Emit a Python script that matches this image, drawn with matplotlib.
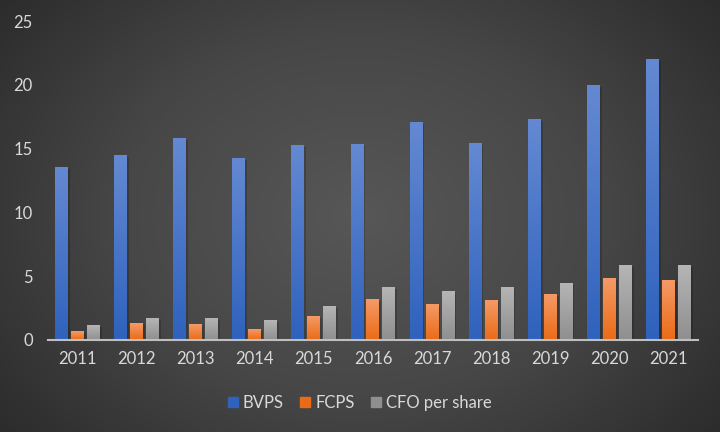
import matplotlib.pyplot as plt
import numpy as np
from matplotlib.colors import LinearSegmentedColormap

plt.rcParams['font.family'] = ['Lato', 'DejaVu Sans']

years = ["2011", "2012", "2013", "2014", "2015", "2016", "2017", "2018", "2019", "2020", "2021"]
bvps = [13.55, 14.5, 15.85, 14.25, 15.3, 15.35, 17.1, 15.45, 17.3, 20.0, 22.05]
fcps = [0.7, 1.3, 1.25, 0.85, 1.85, 3.2, 2.8, 3.1, 3.6, 4.85, 4.7]
cfo = [1.15, 1.7, 1.7, 1.55, 2.65, 4.15, 3.8, 4.15, 4.45, 5.85, 5.85]
series = ["BVPS", "FCPS", "CFO per share"]

# 颜色 (上, 下)
colors = [("#6489d2", "#2f62bd"), ("#f59a66", "#ea6b17"), ("#b5b5b5", "#8f8f8f")]

fig = plt.figure(figsize=(7.2, 4.32), dpi=100)

# 径向渐变背景
bg = fig.add_axes([0, 0, 1, 1], zorder=-10)
yy, xx = np.mgrid[-1:1:200j, -1:1:330j]
r = np.sqrt((xx * 0.95) ** 2 + (yy * 0.75) ** 2)
bg_cmap = LinearSegmentedColormap.from_list("bg", ["#575757", "#474747", "#2a2a2a"])
bg.imshow(r, cmap=bg_cmap, aspect="auto", extent=[0, 1, 0, 1], vmin=0, vmax=1.25)
bg.axis("off")

ax = fig.add_axes([0.0667, 0.2137, 0.9027, 0.737])
ax.patch.set_alpha(0)

x = np.arange(len(years))
width = 0.22
step = 0.27
for i, (name, vals) in enumerate(zip(series, [bvps, fcps, cfo])):
    top, bot = colors[i]
    cmap = LinearSegmentedColormap.from_list(name, [bot, top])
    bars = ax.bar(x + (i - 1) * step, vals, width, color=bot, label=name, zorder=2)
    for b in bars:
        x0, w, h = b.get_x(), b.get_width(), b.get_height()
        # 阴影
        ax.bar(x0 + w / 2 + 0.03, h, w, bottom=-0.15, color="black", alpha=0.18, zorder=1)
        grad = np.linspace(0, 1, 100).reshape(-1, 1)
        ax.imshow(grad, cmap=cmap, origin="lower", aspect="auto",
                  extent=[x0, x0 + w, 0, h], zorder=3)

ax.set_xlim(-0.5, len(years) - 0.5)
ax.set_ylim(0, 25)
ax.set_yticks([0, 5, 10, 15, 20, 25])
ax.set_xticks(x)
ax.set_xticklabels(years)
ax.tick_params(colors="#d9d9d9", labelsize=12, length=0)
ax.tick_params(axis="y", pad=11)
ax.tick_params(axis="x", pad=8)
for s in ["top", "right", "left"]:
    ax.spines[s].set_visible(False)
ax.spines["bottom"].set_color("#bfbfbf")
ax.spines["bottom"].set_linewidth(1.5)
ax.spines["bottom"].set_zorder(5)

handles = [plt.Rectangle((0, 0), 1, 1, color=c[1]) for c in colors]
leg = fig.legend(handles, series, loc="center", bbox_to_anchor=(0.5, 0.067), ncol=3,
                 frameon=False, fontsize=12, handlelength=0.6, handleheight=0.6,
                 handletextpad=0.3, columnspacing=1.0)
for t in leg.get_texts():
    t.set_color("#d9d9d9")

fig.savefig("out.png", dpi=100)
